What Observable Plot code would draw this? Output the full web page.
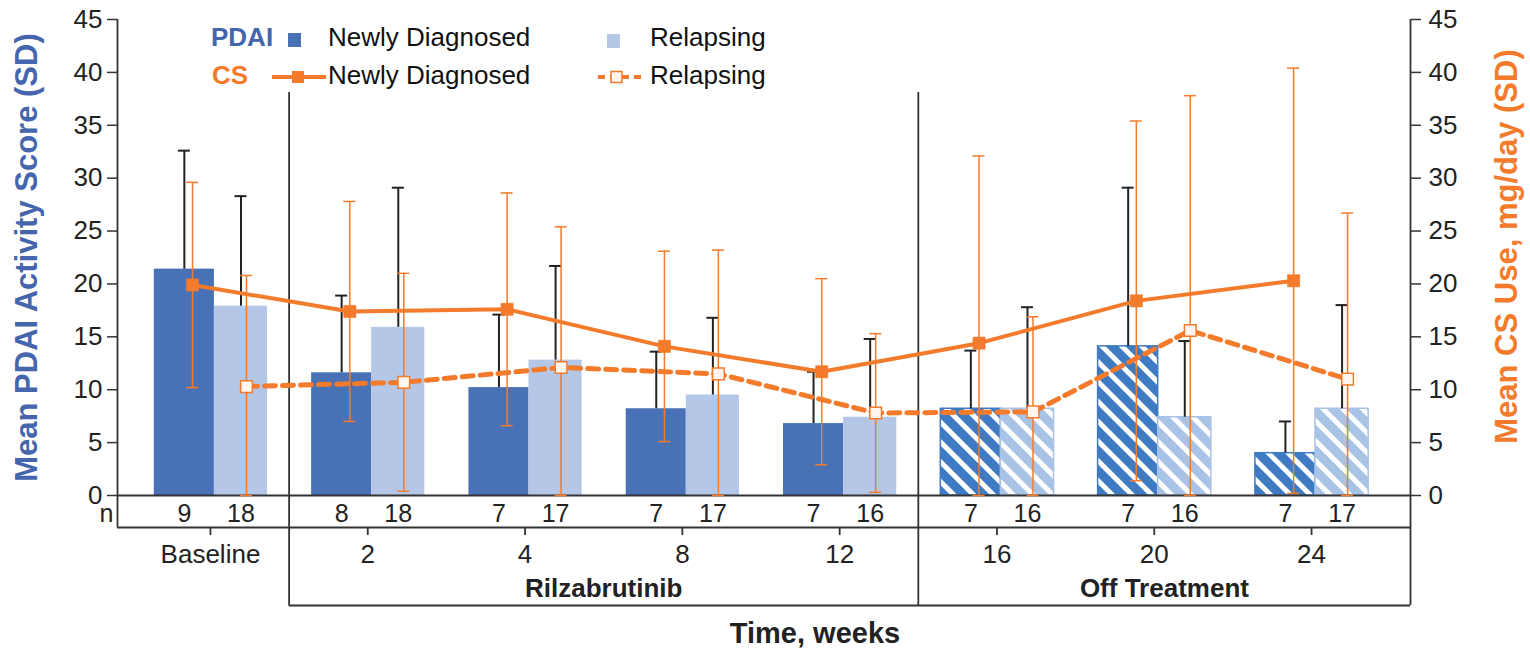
<!DOCTYPE html>
<html><head><meta charset="utf-8">
<script src="https://cdn.jsdelivr.net/npm/d3@7"></script>
<script src="https://cdn.jsdelivr.net/npm/@observablehq/plot@0.6"></script>
<style>
body{margin:0;background:#fff;font-family:"Liberation Sans",Arial,sans-serif;}
#wrap{position:relative;width:1530px;height:650px;}
.lg{position:absolute;transform:translateY(-50%);white-space:nowrap;line-height:1;color:#111;font-size:26px;}
.lg svg{display:block}
</style></head><body><div id="wrap"></div>
<script>
// ---- data ----
const categories = ["Baseline", "2", "4", "8", "12", "16", "20", "24"];
const phases = ["Baseline", "Rilzabrutinib", "Rilzabrutinib", "Rilzabrutinib", "Rilzabrutinib", "Off Treatment", "Off Treatment", "Off Treatment"];
const pdaiNewly = [21.4, 11.6, 10.2, 8.2, 6.8, 8.2, 14.1, 4.0];
const pdaiNewlySD = [11.2, 7.3, 6.9, 5.4, 4.9, 5.5, 15.0, 3.0];
const pdaiRelapsing = [17.9, 15.9, 12.8, 9.5, 7.4, 8.2, 7.4, 8.2];
const pdaiRelapsingSD = [10.4, 13.2, 8.9, 7.3, 7.4, 9.6, 7.2, 9.8];
const csNewly = [19.9, 17.4, 17.6, 14.1, 11.7, 14.4, 18.4, 20.3];
const csNewlySD = [9.7, 10.4, 11.0, 9.0, 8.8, 17.7, 17.0, 20.1];
const csRelapsing = [10.3, 10.7, 12.1, 11.5, 7.8, 7.9, 15.6, 11.0];
const csRelapsingSD = [10.5, 10.3, 13.3, 11.7, 7.5, 9.0, 22.2, 15.7];
const nNewly = [9, 8, 7, 7, 7, 7, 7, 7];
const nRelapsing = [18, 18, 17, 17, 16, 16, 16, 17];
const yTicks = [0, 5, 10, 15, 20, 25, 30, 35, 40, 45];

// ---- style ----
const DARK = "#4871b6", LIGHT = "#b4c7e7";
const HDARK = "#3f7bc3", HLIGHT = "#a9c3e6";
const ORANGE = "#f37b2b", BLUE_TXT = "#4566ad", INK = "#222", AX = "#333";
const xmin = -0.591, xmax = 7.629;

const idx = categories.map((c, i) => i);
const isOff = i => phases[i] === "Off Treatment";
const newlyBars = idx.map(i => ({i, v: pdaiNewly[i], sd: pdaiNewlySD[i], n: nNewly[i], off: isOff(i)}));
const relBars = idx.map(i => ({i, v: pdaiRelapsing[i], sd: pdaiRelapsingSD[i], n: nRelapsing[i], off: isOff(i)}));
const csN = idx.map(i => ({i, v: csNewly[i], sd: csNewlySD[i]}));
const csR = idx.map(i => ({i, v: csRelapsing[i], sd: csRelapsingSD[i]}));

// group layout offsets (in category units)
const nX1 = d => d.i - 0.357, nX2 = d => d.i + 0.025, nXc = d => d.i - 0.166;
const rX1 = d => d.i + 0.025, rX2 = d => d.i + 0.363, rXc = d => d.i + 0.194;
const cnX = d => d.i - 0.114, crX = d => d.i + 0.229;

// phase spans
const firstRil = phases.indexOf("Rilzabrutinib"), firstOff = phases.indexOf("Off Treatment");
const dividers = [firstRil - 0.5, firstOff - 0.5];
const phaseLabels = [
  {label: "Rilzabrutinib", x: (dividers[0] + dividers[1]) / 2},
  {label: "Off Treatment", x: (dividers[1] + xmax) / 2}
];

function errMarks(data, xf, color, width, both) {
  const lo = d => both ? Math.max(0, d.v - d.sd) : d.v;
  const hi = d => d.v + d.sd;
  const marks = [
    Plot.ruleX(data, {x: xf, y1: lo, y2: hi, stroke: color, strokeWidth: width}),
    Plot.ruleY(data, {y: hi, x1: xf, x2: xf, insetLeft: -6, insetRight: -6, stroke: color, strokeWidth: width})
  ];
  if (both) marks.push(Plot.ruleY(data, {y: lo, x1: xf, x2: xf, insetLeft: -6, insetRight: -6, stroke: color, strokeWidth: width}));
  return marks;
}

const FS = 25;
const plot = Plot.plot({
  width: 1530, height: 650,
  marginLeft: 117, marginRight: 120, marginTop: 19, marginBottom: 155,
  x: {domain: [xmin, xmax], axis: null},
  y: {domain: [0, 45]},
  style: {fontFamily: "'Liberation Sans', Arial, sans-serif", fontSize: FS + "px", color: INK, background: "white", overflow: "visible"},
  marks: [
    // bars
    Plot.rect(newlyBars.filter(d => !d.off), {x1: nX1, x2: nX2, y1: 0, y2: "v", fill: DARK}),
    Plot.rect(newlyBars.filter(d => d.off), {x1: nX1, x2: nX2, y1: 0, y2: "v", fill: "url(#hatchDark)", stroke: HDARK, strokeWidth: 1.5}),
    Plot.rect(relBars.filter(d => !d.off), {x1: rX1, x2: rX2, y1: 0, y2: "v", fill: LIGHT}),
    Plot.rect(relBars.filter(d => d.off), {x1: rX1, x2: rX2, y1: 0, y2: "v", fill: "url(#hatchLight)", stroke: HLIGHT, strokeWidth: 1.5}),
    // PDAI error bars (upper only)
    ...errMarks(newlyBars, nXc, INK, 2, false),
    ...errMarks(relBars, rXc, INK, 2, false),
    // structure lines
    Plot.ruleY([0], {stroke: AX, strokeWidth: 1.8}),
    Plot.ruleY([0], {stroke: AX, strokeWidth: 1.8, dy: 32}),
    Plot.ruleY([{y: 0, x1: dividers[0], x2: xmax}], {y: "y", x1: "x1", x2: "x2", stroke: AX, strokeWidth: 1.8, dy: 110}),
    Plot.ruleX([xmin], {stroke: AX, strokeWidth: 1.8, insetBottom: -32}),
    Plot.ruleX([xmax], {stroke: AX, strokeWidth: 1.8, insetBottom: -110}),
    Plot.ruleX(dividers, {stroke: AX, strokeWidth: 1.8, insetTop: 73, insetBottom: -110}),
    Plot.ruleX(idx, {x: d => d, y1: 0, y2: 0, insetTop: 32, insetBottom: -40, stroke: AX, strokeWidth: 1.8}),
    // axes
    Plot.axisY(yTicks, {anchor: "left", tickSize: 10, tickPadding: 5, fontSize: 26, label: null, stroke: AX, strokeWidth: 1.5}),
    Plot.axisY(yTicks, {anchor: "right", tickSize: 10, tickPadding: 8, fontSize: 26, label: null, stroke: AX, strokeWidth: 1.5}),
    // CS error bars
    ...errMarks(csN, cnX, ORANGE, 1.5, true),
    ...errMarks(csR, crX, ORANGE, 1.5, true),
    // CS lines
    Plot.line(csN, {x: cnX, y: "v", stroke: ORANGE, strokeWidth: 4}),
    Plot.line(csR, {x: crX, y: "v", stroke: ORANGE, strokeWidth: 5, strokeDasharray: "11,7"}),
    Plot.dot(csN, {x: cnX, y: "v", symbol: "square", r: 6.9, fill: ORANGE, stroke: ORANGE, strokeWidth: 0.5}),
    Plot.dot(csR, {x: crX, y: "v", symbol: "square", r: 6.6, fill: "#fff6ef", stroke: ORANGE, strokeWidth: 1.5}),
    // n row
    Plot.text(["n"], {x: xmin, y: 0, text: d => d, dx: -4, dy: 18, textAnchor: "end", lineAnchor: "middle", fontSize: FS}),
    Plot.text(newlyBars, {x: nXc, y: 0, text: "n", dy: 18, fontSize: FS}),
    Plot.text(relBars, {x: rXc, y: 0, text: "n", dy: 18, fontSize: FS}),
    // category labels
    Plot.text(idx, {x: d => d, y: 0, text: d => categories[d], dy: 59, fontSize: 26}),
    Plot.text(phaseLabels, {x: "x", y: 0, text: "label", dy: 93, fontSize: 26, fontWeight: "bold"}),
    Plot.text(["Time, weeks"], {frameAnchor: "bottom", text: d => d, dx: 51, dy: 138, textAnchor: "middle", lineAnchor: "middle", fontSize: 29, fontWeight: "bold"}),
    // axis titles
    Plot.text(["Mean PDAI Activity Score (SD)"], {frameAnchor: "left", text: d => d, rotate: -90, dx: -90, textAnchor: "middle", lineAnchor: "middle", fontSize: 31, fontWeight: "bold", fill: BLUE_TXT}),
    Plot.text(["Mean CS Use, mg/day (SD)"], {frameAnchor: "right", text: d => d, rotate: -90, dx: 97, dy: -11, textAnchor: "middle", lineAnchor: "middle", fontSize: 31, fontWeight: "bold", fill: ORANGE})
  ]
});

plot.insertAdjacentHTML("afterbegin",
  `<defs>
    <pattern id="hatchDark" patternUnits="userSpaceOnUse" width="14" height="14" patternTransform="rotate(-45)">
      <rect width="14" height="14" fill="${HDARK}"></rect><rect width="5" height="14" fill="#fff"></rect>
    </pattern>
    <pattern id="hatchLight" patternUnits="userSpaceOnUse" width="14" height="14" patternTransform="rotate(-45)">
      <rect width="14" height="14" fill="${HLIGHT}"></rect><rect width="5" height="14" fill="#fff"></rect>
    </pattern>
  </defs>`);

const wrap = document.getElementById("wrap");
wrap.appendChild(plot);

// ---- legend ----
const legend = [
  {left: 211, top: 37, html: `<b style="color:${BLUE_TXT}">PDAI</b>`},
  {left: 288, top: 40, html: `<div style="width:13px;height:14px;background:${DARK}"></div>`},
  {left: 328, top: 37, html: "Newly Diagnosed"},
  {left: 607, top: 41, html: `<div style="width:13px;height:14px;background:${LIGHT}"></div>`},
  {left: 650, top: 37, html: "Relapsing"},
  {left: 212, top: 75, html: `<b style="color:${ORANGE}">CS</b>`},
  {left: 272, top: 77, html: `<svg width="54" height="14"><line x1="0" x2="54" y1="7" y2="7" stroke="${ORANGE}" stroke-width="4"/><rect x="20" y="1" width="12" height="12" fill="${ORANGE}"/></svg>`},
  {left: 328, top: 75, html: "Newly Diagnosed"},
  {left: 598, top: 77, html: `<svg width="44" height="14"><line x1="0" x2="44" y1="7" y2="7" stroke="${ORANGE}" stroke-width="4" stroke-dasharray="7,5"/><rect x="13" y="1.5" width="11" height="11" fill="#fff6ef" stroke="${ORANGE}" stroke-width="1.5"/></svg>`},
  {left: 650, top: 75, html: "Relapsing"}
];
for (const it of legend) {
  const d = document.createElement("div");
  d.className = "lg";
  d.style.left = it.left + "px";
  d.style.top = it.top + "px";
  d.innerHTML = it.html;
  wrap.appendChild(d);
}
</script></body></html>
